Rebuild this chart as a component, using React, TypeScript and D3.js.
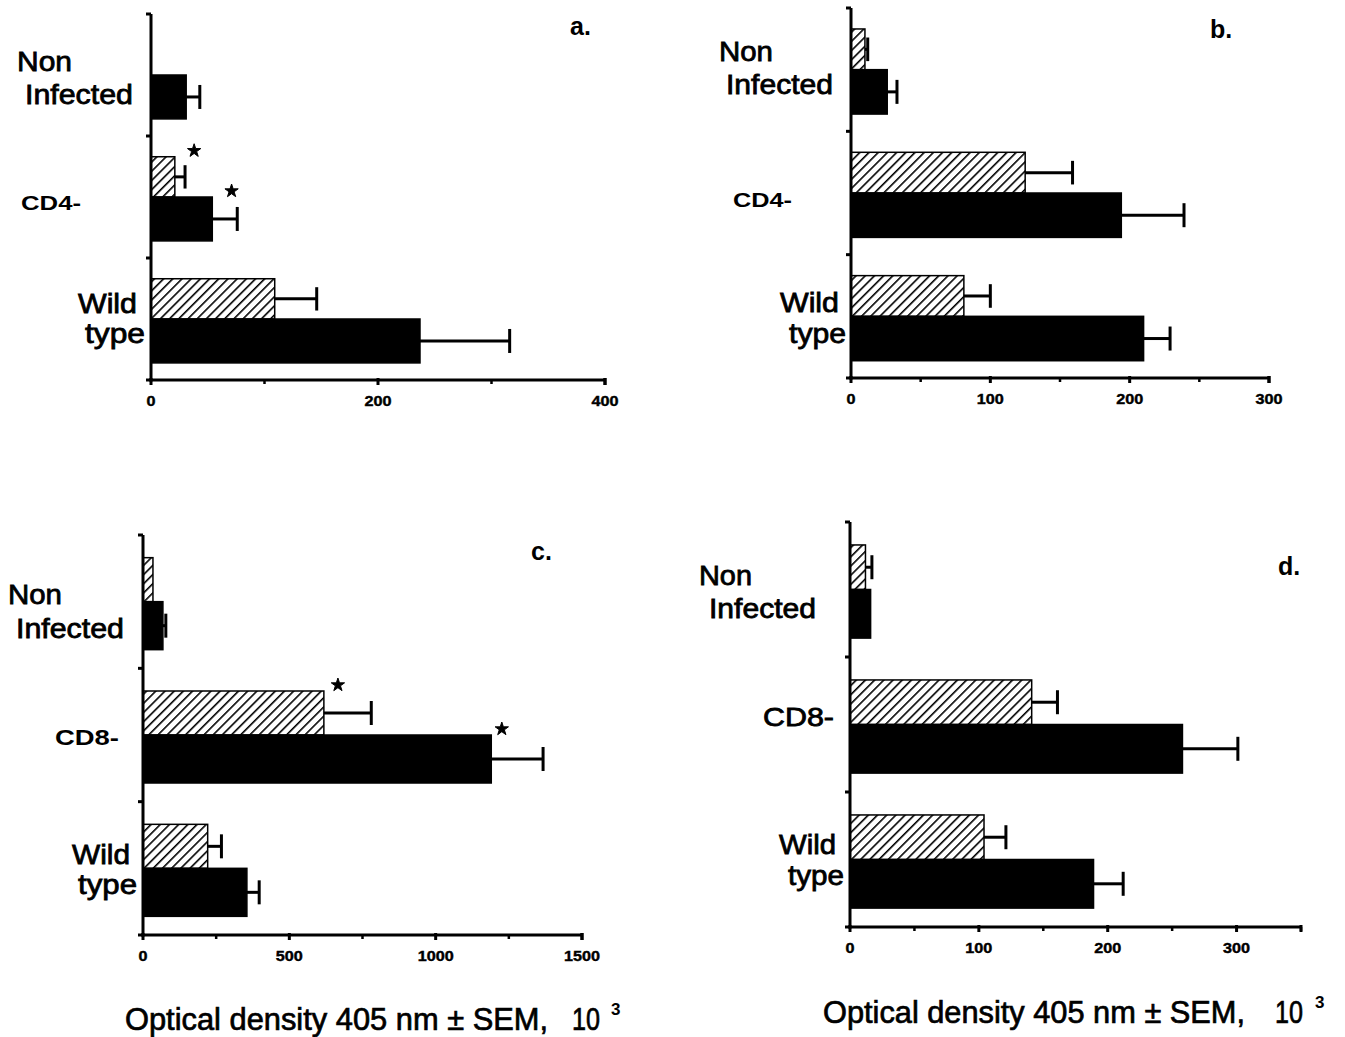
import React from "react";
import * as d3 from "d3";

// ---------- DATA ----------
const categoriesTop = ["Non Infected", "CD4-", "Wild type"];
const categoriesBottom = ["Non Infected", "CD8-", "Wild type"];

// panel a
const aHatched = [0, 21, 109];
const aHatchedSem = [0, 9, 37];
const aBlack = [31, 54, 237];
const aBlackSem = [12, 22, 79];
const aStars = [
  { cat: 1, series: "hatched", value: 38 },
  { cat: 1, series: "black", value: 71 },
];
const aTicks = [0, 200, 400];
const aMinor = [100, 300];

// panel b
const bHatched = [10, 125, 81];
const bHatchedSem = [2, 34, 19];
const bBlack = [26, 194, 210];
const bBlackSem = [7, 45, 19];
const bTicks = [0, 100, 200, 300];
const bMinor = [50, 150, 250];

// panel c
const cHatched = [34, 618, 221];
const cHatchedSem = [0, 162, 47];
const cBlack = [68, 1190, 355];
const cBlackSem = [10, 177, 42];
const cStars = [
  { cat: 1, series: "hatched", value: 666 },
  { cat: 1, series: "black", value: 1226 },
];
const cTicks = [0, 500, 1000, 1500];
const cMinor = [250, 750, 1250];

// panel d
const dHatched = [12, 141, 104];
const dHatchedSem = [5, 20, 17];
const dBlack = [16, 258, 189];
const dBlackSem = [0, 43, 23];
const dTicks = [0, 100, 200, 300];
const dMinor = [50, 150, 250, 350];

const axisTitle = "Optical density 405 nm \u00b1 SEM,";
const axisTitleUnit = "10";
const axisTitleExp = "3";

// ---------- LAYOUT ----------
type Line = { text: string; x: number; y: number; w: number; size: number; anchor: string; bold?: boolean };

const FONT = "'Liberation Sans', Arial, Helvetica, sans-serif";

const panels = [
  {
    letter: "a.", letterX: 570, letterY: 35,
    x0: 151, x1: 605, yTop: 14, yBottom: 380, max: 400,
    ticks: aTicks, minor: aMinor, cats: categoriesTop,
    hatched: aHatched, hatchedSem: aHatchedSem, black: aBlack, blackSem: aBlackSem, stars: aStars,
    labels: [
      { text: "Non", x: 17, y: 71, w: 55, size: 28, anchor: "start" },
      { text: "Infected", x: 25, y: 104, w: 108, size: 28, anchor: "start" },
      { text: "CD4-", x: 21, y: 210, w: 60, size: 21, anchor: "start", bold: true },
      { text: "Wild", x: 137, y: 313, w: 59, size: 28, anchor: "end" },
      { text: "type", x: 145, y: 343, w: 60, size: 28, anchor: "end" },
    ] as Line[],
  },
  {
    letter: "b.", letterX: 1210, letterY: 38,
    x0: 851, x1: 1269, yTop: 8, yBottom: 378, max: 300,
    ticks: bTicks, minor: bMinor, cats: categoriesTop,
    hatched: bHatched, hatchedSem: bHatchedSem, black: bBlack, blackSem: bBlackSem, stars: [],
    labels: [
      { text: "Non", x: 719, y: 61, w: 54, size: 28, anchor: "start" },
      { text: "Infected", x: 726, y: 94, w: 107, size: 28, anchor: "start" },
      { text: "CD4-", x: 733, y: 207, w: 59, size: 21, anchor: "start", bold: true },
      { text: "Wild", x: 839, y: 312, w: 59, size: 28, anchor: "end" },
      { text: "type", x: 846, y: 343, w: 57, size: 28, anchor: "end" },
    ] as Line[],
  },
  {
    letter: "c.", letterX: 531, letterY: 560,
    x0: 143, x1: 582, yTop: 535, yBottom: 935, max: 1500,
    ticks: cTicks, minor: cMinor, cats: categoriesBottom,
    hatched: cHatched, hatchedSem: cHatchedSem, black: cBlack, blackSem: cBlackSem, stars: cStars,
    labels: [
      { text: "Non", x: 8, y: 604, w: 54, size: 28, anchor: "start" },
      { text: "Infected", x: 16, y: 638, w: 108, size: 28, anchor: "start" },
      { text: "CD8-", x: 55, y: 745, w: 64, size: 22, anchor: "start", bold: true },
      { text: "Wild", x: 130, y: 864, w: 58, size: 28, anchor: "end" },
      { text: "type", x: 137, y: 894, w: 59, size: 28, anchor: "end" },
    ] as Line[],
  },
  {
    letter: "d.", letterX: 1278, letterY: 575,
    x0: 850, x1: 1301, yTop: 522, yBottom: 927, max: 350,
    ticks: dTicks, minor: dMinor, cats: categoriesBottom,
    hatched: dHatched, hatchedSem: dHatchedSem, black: dBlack, blackSem: dBlackSem, stars: [],
    labels: [
      { text: "Non", x: 699, y: 585, w: 53, size: 28, anchor: "start" },
      { text: "Infected", x: 709, y: 618, w: 107, size: 28, anchor: "start" },
      { text: "CD8-", x: 763, y: 726, w: 71, size: 26, anchor: "start" },
      { text: "Wild", x: 836, y: 854, w: 57, size: 28, anchor: "end" },
      { text: "type", x: 844, y: 885, w: 56, size: 28, anchor: "end" },
    ] as Line[],
  },
];

const titles = [
  { x: 125, y: 1030, w: 423, ux: 572, uw: 28, ex: 611 },
  { x: 823, y: 1023, w: 422, ux: 1275, uw: 28, ex: 1315 },
];

const HATCH_TOP = 0.17;
const MID = 0.5;
const BLACK_BOTTOM = 0.86;

function Panel({ p }: { p: (typeof panels)[number] }) {
  const x = d3.scaleLinear().domain([0, p.max]).range([p.x0, p.x1]);
  const y = d3.scaleBand<string>().domain(p.cats).range([p.yTop, p.yBottom]).padding(0);
  const G = y.bandwidth();
  const els: React.ReactNode[] = [];

  const series = [
    { key: "hatched", vals: p.hatched, sem: p.hatchedSem, t: HATCH_TOP, b: MID, fill: "url(#hatch)" },
    { key: "black", vals: p.black, sem: p.blackSem, t: MID, b: BLACK_BOTTOM, fill: "#000" },
  ];

  series.forEach((s) => {
    p.cats.forEach((c, i) => {
      const v = s.vals[i];
      const top = (y(c) as number) + G * s.t;
      const bot = (y(c) as number) + G * s.b;
      const h = bot - top;
      const cy = (top + bot) / 2;
      if (v > 0) {
        els.push(
          <rect key={`${s.key}-r-${i}`} x={x(0)} y={top} width={x(v) - x(0)} height={h}
            fill={s.fill} stroke="#000" strokeWidth={1.5} />
        );
      }
      const e = s.sem[i];
      if (v > 0 && e > 0) {
        const capH = Math.min(24, h * 0.58);
        els.push(
          <g key={`${s.key}-e-${i}`} stroke="#000" strokeWidth={3}>
            <line x1={x(v)} x2={x(v + e)} y1={cy} y2={cy} />
            <line x1={x(v + e)} x2={x(v + e)} y1={cy - capH / 2} y2={cy + capH / 2} />
          </g>
        );
      }
    });
  });

  p.stars.forEach((st, i) => {
    const c = p.cats[st.cat];
    const top = (y(c) as number) + G * (st.series === "hatched" ? HATCH_TOP : MID);
    const sym = d3.symbol().type(d3.symbolStar).size(55)();
    els.push(
      <path key={`star-${i}`} d={sym as string} transform={`translate(${x(st.value)},${top - 6})`}
        fill="#000" stroke="#000" strokeWidth={1} strokeLinejoin="round" />
    );
  });

  // axes
  const yTicks = [p.yTop, ...p.cats.map((c) => (y(c) as number) + G)];
  return (
    <g>
      {els}
      <line x1={p.x0} x2={p.x0} y1={p.yTop} y2={p.yBottom + 1.5} stroke="#000" strokeWidth={3} />
      <line x1={p.x0 - 1.5} x2={p.x1} y1={p.yBottom} y2={p.yBottom} stroke="#000" strokeWidth={3} />
      {yTicks.map((t, i) => (
        <line key={`yt${i}`} x1={p.x0 - 5} x2={p.x0} y1={t} y2={t} stroke="#000" strokeWidth={3} />
      ))}
      {[...p.ticks, p.max].map((t, i) => (
        <line key={`xt${i}`} x1={x(t)} x2={x(t)} y1={p.yBottom - 2} y2={p.yBottom + 5} stroke="#000" strokeWidth={3} />
      ))}
      {p.minor.map((t, i) => (
        <line key={`xm${i}`} x1={x(t)} x2={x(t)} y1={p.yBottom} y2={p.yBottom + 4} stroke="#000" strokeWidth={2.5} />
      ))}
      {p.ticks.map((t, i) => {
        const s = String(t);
        return (
          <text key={`xl${i}`} x={x(t)} y={p.yBottom + 26} textAnchor="middle" fontFamily={FONT}
            fontWeight="bold" fontSize={14} textLength={s.length * 9} lengthAdjust="spacingAndGlyphs"
            stroke="#000" strokeWidth={0.4}>
            {s}
          </text>
        );
      })}
      {p.labels.map((l, i) => (
        <text key={`lab${i}`} x={l.x} y={l.y} textAnchor={l.anchor} fontFamily={FONT}
          fontWeight={l.bold ? "bold" : "normal"} fontSize={l.size} textLength={l.w}
          lengthAdjust="spacingAndGlyphs" stroke="#000" strokeWidth={l.bold ? 0 : 0.8}>
          {l.text}
        </text>
      ))}
      <text x={p.letterX} y={p.letterY} fontFamily={FONT} fontWeight="bold" fontSize={25}>
        {p.letter}
      </text>
    </g>
  );
}

export default function App() {
  return (
    <svg width={1345} height={1037} viewBox="0 0 1345 1037"
      style={{ position: "absolute", left: 0, top: 0, background: "#fff" }}>
      <defs>
        <pattern id="hatch" patternUnits="userSpaceOnUse" width={6.5} height={6.5}
          patternTransform="rotate(45)">
          <rect width={6.5} height={6.5} fill="#fff" />
          <line x1={0} y1={0} x2={0} y2={6.5} stroke="#000" strokeWidth={3.2} />
        </pattern>
      </defs>
      <rect width={1345} height={1037} fill="#fff" />
      {panels.map((p, i) => (
        <Panel key={i} p={p} />
      ))}
      {titles.map((t, i) => (
        <g key={`t${i}`} fontFamily={FONT} fill="#000">
          <text x={t.x} y={t.y} fontSize={31} textLength={t.w} lengthAdjust="spacingAndGlyphs"
            stroke="#000" strokeWidth={0.7}>
            {axisTitle}
          </text>
          <text x={t.ux} y={t.y} fontSize={31} textLength={t.uw} lengthAdjust="spacingAndGlyphs"
            stroke="#000" strokeWidth={0.7}>
            {axisTitleUnit}
          </text>
          <text x={t.ex} y={t.y - 15} fontSize={17} fontWeight="bold">
            {axisTitleExp}
          </text>
        </g>
      ))}
    </svg>
  );
}
